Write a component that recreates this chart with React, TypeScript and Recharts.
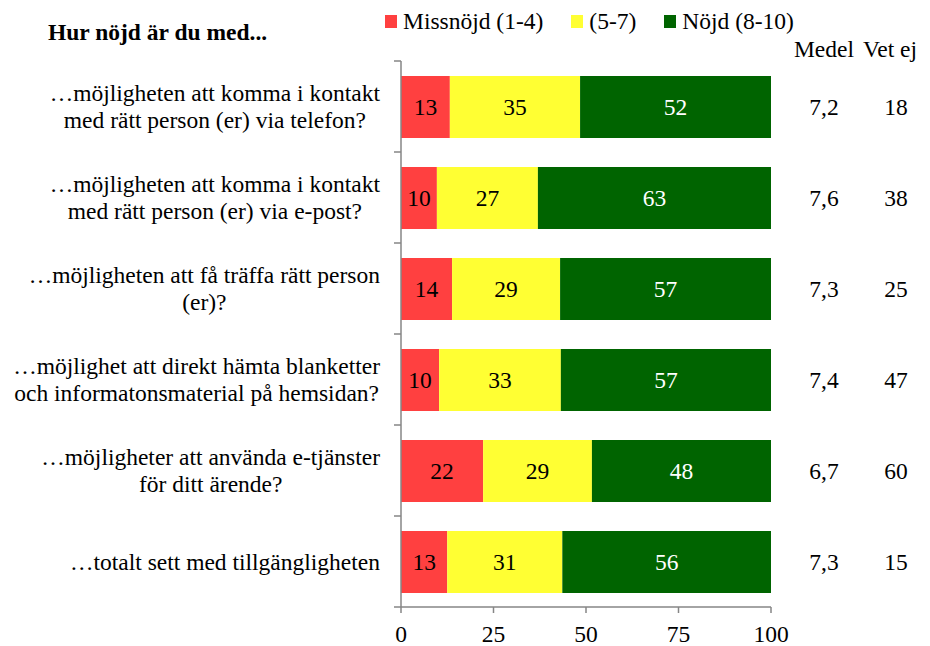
import React from 'react';
import { BarChart, Bar, XAxis, YAxis, LabelList, Legend } from 'recharts';

const categories = [
  '…möjligheten att komma i kontakt\nmed rätt person (er) via telefon?',
  '…möjligheten att komma i kontakt\nmed rätt person (er) via e-post?',
  '…möjligheten att få träffa rätt person\n(er)?',
  '…möjlighet att direkt hämta blanketter\noch informatonsmaterial på hemsidan?',
  '…möjligheter att använda e-tjänster\nför ditt ärende?',
  '…totalt sett med tillgängligheten',
];
const missnojd = [13.2, 9.7, 13.8, 10.3, 22.2, 12.5];
const mellan = [35.2, 27.3, 29.2, 32.9, 29.4, 31.1];
const nojd = [51.6, 63.0, 57.0, 56.8, 48.4, 56.4];
const medel = ['7,2', '7,6', '7,3', '7,4', '6,7', '7,3'];
const vetEj = [18, 38, 25, 47, 60, 15];
const xTicks = [0, 25, 50, 75, 100];
const seriesNames = ['Missnöjd (1-4)', '(5-7)', 'Nöjd (8-10)'];
const seriesColors = ['#FF4040', '#FFFF33', '#006400'];

const data = categories.map((c, i) => ({
  cat: c,
  missnojd: missnojd[i],
  mellan: mellan[i],
  nojd: nojd[i],
  medel: medel[i],
  vetEj: vetEj[i],
}));

const FONT = '"Liberation Serif", "Times New Roman", serif';
const FS = 23.5;
const AXIS_COLOR = '#868686';
const W = 922;
const H = 638;
const M_TOP = 53;
const X_AXIS_H = 39;
const PLOT_H = H - M_TOP - X_AXIS_H;
const BAND = PLOT_H / categories.length;
const Y_TICK_LEN = 7;
const Y_LABEL_GAP = 14;

let ctx: CanvasRenderingContext2D | null = null;
function measure(t: string): number {
  if (!ctx) ctx = document.createElement('canvas').getContext('2d');
  if (!ctx) return t.length * FS * 0.45;
  ctx.font = `${FS}px "Liberation Serif"`;
  return ctx.measureText(t).width;
}

const CatTick = (props: any) => {
  const { x, y, payload, index } = props;
  const lines = String(payload.value).split('\n');
  const w = Math.max(...lines.map(measure));
  const cx = x - w / 2;
  const lh = 27;
  const y0 = y - ((lines.length - 1) * lh) / 2;
  const tx1 = x + Y_LABEL_GAP;
  const tx2 = tx1 + Y_TICK_LEN;
  return (
    <g>
      <line x1={tx1} x2={tx2} y1={y - BAND / 2} y2={y - BAND / 2} stroke={AXIS_COLOR} strokeWidth={1.5} />
      {index === categories.length - 1 && (
        <line x1={tx1} x2={tx2} y1={y + BAND / 2} y2={y + BAND / 2} stroke={AXIS_COLOR} strokeWidth={1.5} />
      )}
      <text textAnchor="middle" fontFamily={FONT} fontSize={FS} fill="#000">
        {lines.map((l, i) => (
          <tspan key={i} x={cx} y={y0 + i * lh} dy="0.35em">
            {l}
          </tspan>
        ))}
      </text>
    </g>
  );
};

const sideLabel = (offset: number) => (props: any) => {
  const { x, y, width, height, value } = props;
  return (
    <text
      x={Number(x) + Number(width) + offset}
      y={Number(y) + Number(height) / 2}
      dy="0.35em"
      textAnchor="middle"
      fontFamily={FONT}
      fontSize={FS}
      fill="#000"
    >
      {value}
    </text>
  );
};

const LegendContent = () => (
  <div style={{ display: 'flex', alignItems: 'center', fontFamily: FONT, fontSize: FS, lineHeight: 1, whiteSpace: 'nowrap', color: '#000' }}>
    {seriesNames.map((name, i) => (
      <div key={i} style={{ display: 'flex', alignItems: 'center', marginRight: 28 }}>
        <div style={{ width: 12, height: 13, background: seriesColors[i], marginRight: 6 }} />
        <span>{name}</span>
      </div>
    ))}
  </div>
);

const roundFmt = (v: any) => Math.round(Number(v));

export default function App() {
  return (
    <div style={{ position: 'relative', width: W, height: H }}>
      <BarChart
        width={W}
        height={H}
        data={data}
        layout="vertical"
        margin={{ top: M_TOP, right: 159, bottom: 0, left: 0 }}
        barSize={62}
      >
        <XAxis
          type="number"
          domain={[0, 100]}
          ticks={xTicks}
          height={X_AXIS_H}
          tickSize={6}
          tickMargin={12}
          stroke={AXIS_COLOR}
          axisLine={{ stroke: AXIS_COLOR, strokeWidth: 1.5 }}
          tickLine={{ stroke: AXIS_COLOR, strokeWidth: 1.5 }}
          tick={{ fill: '#000', fontFamily: FONT, fontSize: FS }}
        />
        <YAxis
          type="category"
          dataKey="cat"
          width={393}
          tickLine={false}
          tickSize={0}
          tickMargin={Y_LABEL_GAP + Y_TICK_LEN}
          axisLine={{ stroke: AXIS_COLOR, strokeWidth: 1.5 }}
          tick={<CatTick />}
          interval={0}
        />
        <Legend
          verticalAlign="middle"
          align="center"
          layout="horizontal"
          wrapperStyle={{ top: 2, left: 377, width: 'auto', height: 'auto' }}
          content={<LegendContent />}
        />
        <Bar dataKey="missnojd" name={seriesNames[0]} stackId="a" fill={seriesColors[0]} isAnimationActive={false}>
          <LabelList dataKey="missnojd" position="center" formatter={roundFmt} fill="#000" fontFamily={FONT} fontSize={FS} />
        </Bar>
        <Bar dataKey="mellan" name={seriesNames[1]} stackId="a" fill={seriesColors[1]} isAnimationActive={false}>
          <LabelList dataKey="mellan" position="center" formatter={roundFmt} fill="#000" fontFamily={FONT} fontSize={FS} />
        </Bar>
        <Bar dataKey="nojd" name={seriesNames[2]} stackId="a" fill={seriesColors[2]} isAnimationActive={false}>
          <LabelList dataKey="nojd" position="center" formatter={roundFmt} fill="#fff" fontFamily={FONT} fontSize={FS} />
          <LabelList dataKey="medel" content={sideLabel(53)} />
          <LabelList dataKey="vetEj" content={sideLabel(125)} />
        </Bar>
      </BarChart>
      <div style={{ position: 'absolute', left: 40, top: 13, fontFamily: FONT, fontSize: FS, fontWeight: 'bold', lineHeight: 1, whiteSpace: 'nowrap' }}>
        Hur nöjd är du med...
      </div>
      <div style={{ position: 'absolute', left: 776, width: 80, top: 30, textAlign: 'center', fontFamily: FONT, fontSize: FS, lineHeight: 1 }}>
        Medel
      </div>
      <div style={{ position: 'absolute', left: 842, width: 80, top: 30, textAlign: 'center', fontFamily: FONT, fontSize: FS, lineHeight: 1, whiteSpace: 'nowrap' }}>
        Vet ej
      </div>
    </div>
  );
}
